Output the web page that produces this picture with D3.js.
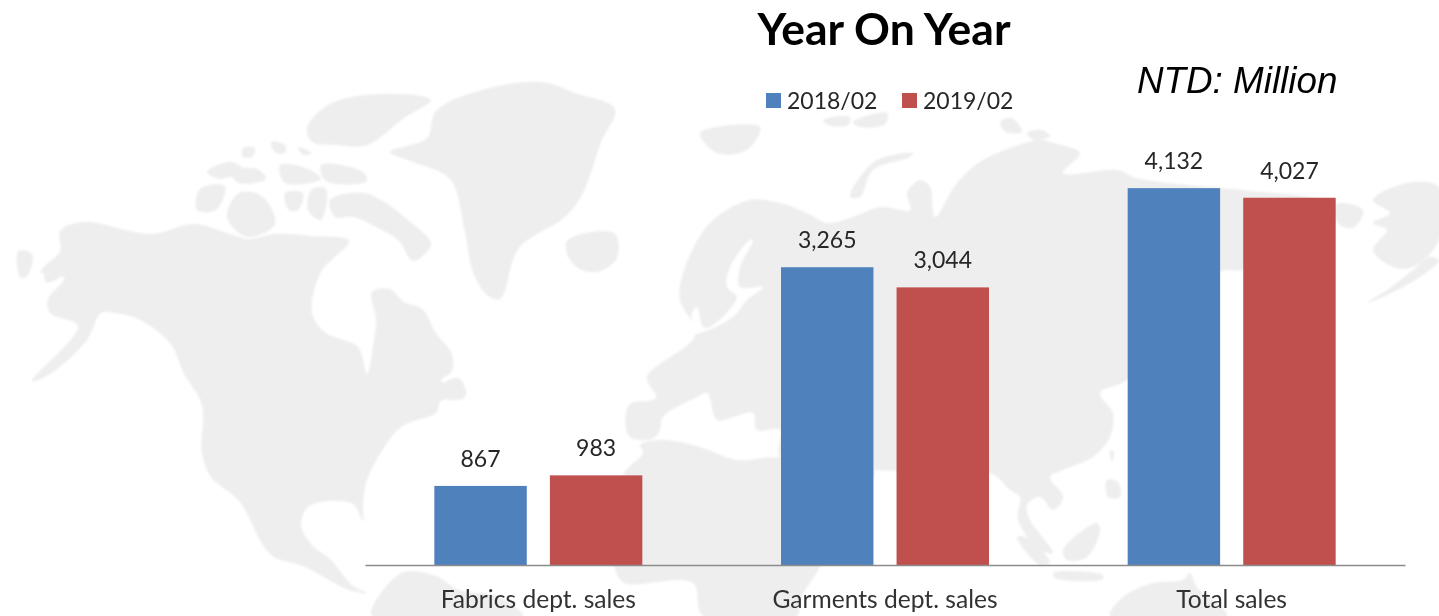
<!DOCTYPE html>
<html>
<head>
<meta charset="utf-8">
<title>Year On Year</title>
<script src="https://cdn.jsdelivr.net/npm/d3@7"></script>
<style>
  html, body { margin: 0; padding: 0; background: #fff; overflow: hidden; }
  text { fill: #262626; font-family: Lato, "Open Sans", sans-serif; }
</style>
</head>
<body>
<div id="chart"></div>
<script>
// chart values
const categories = ["Fabrics dept. sales", "Garments dept. sales", "Total sales"];
const seriesNames = ["2018/02", "2019/02"];
const values2018 = [867, 3265, 4132];
const values2019 = [983, 3044, 4027];
const seriesColors = ["#4f81bd", "#c0504d"];

const width = 1439;
const height = 616;

// background world map, traced by eye (page pixels, just decoration)
const northAmerica = [[60,231],[83,222],[151,234],[193,224],[230,234],[248,239],[275,234],[312,236],[349,241],[321,272],[312,313],[326,333],[358,347],[367,374],[374,340],[376,319],[372,292],[390,289],[404,302],[422,309],[436,333],[452,354],[452,371],[441,381],[464,388],[464,398],[441,401],[436,413],[404,425],[390,439],[367,480],[363,504],[363,521],[353,504],[330,501],[308,507],[301,525],[312,545],[330,559],[353,586],[367,593],[349,590],[303,566],[271,555],[239,501],[211,477],[202,453],[202,405],[184,374],[170,343],[138,319],[115,313],[101,313],[87,340],[50,374],[32,381],[78,326],[50,313],[48,299],[64,278],[41,272],[60,251]];
const greenland = [[390,152],[427,138],[436,111],[482,90],[541,82],[578,94],[615,109],[601,142],[583,193],[565,217],[519,248],[500,299],[487,295],[473,272],[464,227],[450,179],[413,162]];
const arcticIslands = [
  [[307,128],[330,104],[381,94],[431,100],[404,118],[367,145],[335,145],[312,142]],
  [[207,172],[230,162],[243,169],[220,179]],
  [[230,172],[257,169],[266,179],[239,183]],
  [[280,165],[308,169],[321,179],[285,183]],
  [[321,165],[363,172],[367,181],[326,181]],
  [[200,189],[225,186],[216,210],[197,210]],
  [[227,213],[239,193],[262,196],[275,224],[248,237],[230,224]],
  [[285,193],[303,193],[298,210],[289,210]],
  [[312,189],[326,189],[321,220],[308,210]],
  [[363,193],[381,200],[408,220],[431,244],[413,261],[399,241],[376,227],[353,217],[335,217],[330,200]],
  [[243,148],[255,148],[252,157],[243,157]],
  [[271,142],[285,145],[285,153],[275,152]],
  [[298,147],[312,153],[303,155]],
  [[443,384],[459,378],[466,395],[454,400],[441,395]],
  [[18,251],[32,254],[28,275],[21,278]],
  [[46,265],[60,261],[62,275],[46,282]]
];
const iceland = [[567,241],[592,232],[615,234],[617,258],[597,272],[578,268],[567,254]];
const southAmerica = [[381,593],[404,572],[436,576],[459,590],[496,596],[523,616],[372,616]];
const eurasia = [[680,300],[683,273],[710,223],[750,200],[780,203],[807,213],[827,223],[853,217],[880,207],[910,210],[907,193],[920,180],[930,187],[935,217],[957,183],[983,160],[1040,140],[1053,143],[1080,153],[1063,173],[1117,170],[1137,178],[1220,188],[1243,190],[1337,205],[1337,215],[1300,240],[1243,270],[1220,272],[1127,380],[1100,393],[1113,413],[1110,437],[1093,457],[1063,470],[1050,477],[1063,497],[1053,510],[1040,497],[1027,505],[1030,520],[1053,553],[1040,550],[1018,520],[1020,497],[1010,490],[990,473],[874,470],[780,457],[780,430],[757,430],[753,413],[733,417],[717,420],[707,393],[697,397],[663,417],[660,430],[652,439],[629,436],[629,405],[656,398],[647,377],[695,335]];
const africa = [[640,445],[643,453],[624,473],[615,504],[607,540],[615,569],[624,583],[693,583],[703,616],[797,616],[800,600],[820,567],[850,510],[874,470],[780,457],[737,460],[700,447],[663,440]];
const australia = [[1110,616],[1123,597],[1153,583],[1183,580],[1190,573],[1197,587],[1217,603],[1227,616]];
const otherLand = [
  [[700,133],[760,127],[747,150],[717,153]],
  [[823,120],[850,117],[848,125],[828,125]],
  [[853,122],[887,113],[885,124],[860,127]],
  [[1000,122],[1012,118],[1022,132],[1006,132]],
  [[1027,133],[1042,130],[1050,136],[1034,140]],
  [[913,153],[877,160],[860,177],[850,197],[860,197],[873,170],[910,157]],
  [[1337,204],[1363,210],[1356,226],[1347,228],[1337,222]],
  [[1373,200],[1407,183],[1439,187],[1439,240],[1413,267],[1393,267],[1373,250],[1387,230],[1373,223],[1390,213]],
  [[1439,260],[1420,277],[1383,297],[1367,303],[1387,290],[1413,270],[1430,257]],
  [[1063,550],[1097,523],[1100,530],[1087,557],[1067,560]],
  [[1017,537],[1025,537],[1050,562],[1040,565]],
  [[1053,573],[1103,575],[1103,579],[1055,578]],
  [[1107,480],[1118,482],[1120,497],[1108,497]],
  [[1110,450],[1114,452],[1112,462]]
];
const baltic = [[750,240],[753,240],[740,267],[740,287],[763,287],[747,300],[733,317],[700,333],[695,333],[692,313],[697,307],[703,327],[710,327],[737,297],[727,287],[730,267]];

const svg = d3.select("#chart")
  .append("svg")
  .attr("width", width)
  .attr("height", height)
  .attr("viewBox", [0, 0, width, height])
  .style("display", "block");

const defs = svg.append("defs");
defs.append("filter").attr("id", "soft")
  .append("feGaussianBlur").attr("stdDeviation", 0.9);
defs.append("filter").attr("id", "softText")
  .append("feGaussianBlur").attr("stdDeviation", 0.4);

// map layer, rounded a bit so the coast does not look cut with scissors
const outline = d3.line().curve(d3.curveCatmullRomClosed.alpha(0.5));
const mapLayer = svg.append("g").attr("filter", "url(#soft)");

mapLayer.selectAll("path.land")
  .data([northAmerica, greenland, iceland, southAmerica, eurasia, africa, australia, ...arcticIslands, ...otherLand])
  .join("path")
  .attr("class", "land")
  .attr("d", outline)
  .attr("fill", "#eeeeee");

mapLayer.append("path")
  .attr("d", outline(baltic))
  .attr("fill", "#ffffff");

// scales
const xScale = d3.scaleBand()
  .domain(categories)
  .range([365, 1405]);

const xInner = d3.scaleBand()
  .domain(seriesNames)
  .range([0, 208])
  .paddingInner(0.2);

const yScale = d3.scaleLinear()
  .domain([0, 5000])
  .range([565, 109]);

const barOffset = (xScale.bandwidth() - xInner.range()[1]) / 2;

const rows = seriesNames.flatMap((name, s) => {
  const vals = s === 0 ? values2018 : values2019;
  return categories.map((cat, i) => ({ name, cat, value: vals[i], color: seriesColors[s] }));
});

// bars
svg.selectAll("rect.bar")
  .data(rows)
  .join("rect")
  .attr("class", "bar")
  .attr("x", d => xScale(d.cat) + barOffset + xInner(d.name))
  .attr("y", d => yScale(d.value))
  .attr("width", xInner.bandwidth())
  .attr("height", d => yScale(0) - yScale(d.value))
  .attr("fill", d => d.color);

// value labels
const textLayer = svg.append("g").attr("filter", "url(#softText)");

textLayer.selectAll("text.value")
  .data(rows)
  .join("text")
  .attr("class", "value")
  .attr("x", d => xScale(d.cat) + barOffset + xInner(d.name) + xInner.bandwidth() / 2)
  .attr("y", d => yScale(d.value) - 19)
  .attr("text-anchor", "middle")
  .attr("font-size", 23)
  .text(d => d3.format(",")(d.value));

// x axis
const xAxis = svg.append("g")
  .attr("transform", `translate(0,${yScale(0)})`)
  .call(d3.axisBottom(xScale).tickSize(0).tickPadding(26));

xAxis.select(".domain").attr("stroke", "#8c8c8c").attr("stroke-width", 1.5);
xAxis.selectAll("text")
  .attr("font-size", 24.6)
  .attr("font-family", "Lato")
  .attr("filter", "url(#softText)")
  .style("fill", "#333333");

// title and unit
textLayer.append("text")
  .attr("x", 884)
  .attr("y", 45)
  .attr("text-anchor", "middle")
  .attr("font-size", 44.5)
  .attr("font-weight", 700)
  .style("fill", "#000000")
  .text("Year On Year");

textLayer.append("text")
  .attr("x", 1137)
  .attr("y", 93)
  .attr("font-size", 36.8)
  .attr("font-style", "italic")
  .style("font-family", "'Liberation Sans', Arial, sans-serif")
  .style("fill", "#000000")
  .text("NTD: Million");

// legend
const legendX = d3.scaleOrdinal().domain(seriesNames).range([766, 902]);

svg.selectAll("rect.key")
  .data(seriesNames)
  .join("rect")
  .attr("class", "key")
  .attr("x", d => legendX(d))
  .attr("y", 93)
  .attr("width", 15)
  .attr("height", 15)
  .attr("fill", (d, i) => seriesColors[i]);

textLayer.selectAll("text.key")
  .data(seriesNames)
  .join("text")
  .attr("class", "key")
  .attr("x", d => legendX(d) + 21)
  .attr("y", 109)
  .attr("font-size", 23)
  .text(d => d);
</script>
</body>
</html>
